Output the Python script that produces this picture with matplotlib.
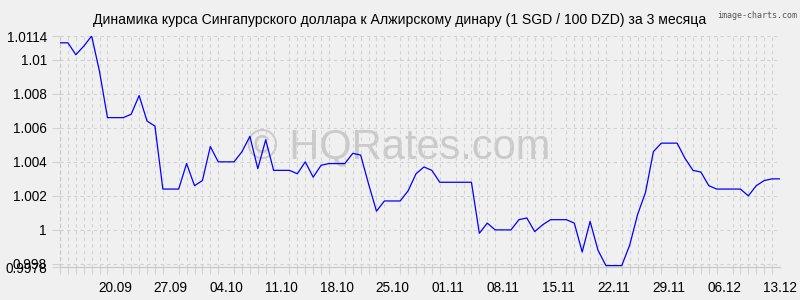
import numpy as np
import pandas as pd
import matplotlib
matplotlib.use("Agg")
from matplotlib import pyplot as plt

# daily SGD/DZD rate (1 SGD / 100 DZD), 13.09 - 13.12
dates = pd.date_range("2021-09-13", "2021-12-13", freq="D")
rate = [
    1.0110, 1.0110, 1.0103, 1.0108, 1.0114, 1.0093, 1.0066, 1.0066, 1.0066, 1.0068,
    1.0079, 1.0064, 1.0061, 1.0024, 1.0024, 1.0024, 1.0039, 1.0026, 1.0029, 1.0049,
    1.0040, 1.0040, 1.0040, 1.0046, 1.0055, 1.0036, 1.0053, 1.0035, 1.0035, 1.0035,
    1.0033, 1.0040, 1.0031, 1.0038, 1.0039, 1.0039, 1.0039, 1.0045, 1.0044, 1.0027,
    1.0011, 1.0017, 1.0017, 1.0017, 1.0023, 1.0033, 1.0037, 1.0035, 1.0028, 1.0028,
    1.0028, 1.0028, 1.0028, 0.9998, 1.0004, 1.0000, 1.0000, 1.0000, 1.0006, 1.0007,
    0.9999, 1.0003, 1.0006, 1.0006, 1.0006, 1.0004, 0.9987, 1.0005, 0.9988, 0.9979,
    0.9979, 0.9979, 0.9991, 1.0009, 1.0022, 1.0046, 1.0051, 1.0051, 1.0051, 1.0042,
    1.0035, 1.0034, 1.0026, 1.0024, 1.0024, 1.0024, 1.0024, 1.0020, 1.0026, 1.0029,
    1.0030, 1.0030,
]
x_labels = ["20.09", "27.09", "04.10", "11.10", "18.10", "25.10", "01.11",
            "08.11", "15.11", "22.11", "29.11", "06.12", "13.12"]
y_ticks = [0.9978, 0.998, 1.0, 1.002, 1.004, 1.006, 1.008, 1.01, 1.0114]
y_labels = ["0.9978", "0.998", "1", "1.002", "1.004", "1.006", "1.008", "1.01", "1.0114"]

plt.rcParams["font.family"] = ["Liberation Sans", "DejaVu Sans"]
bg = "#f0f0f0"
grid_c = "#d2d2d2"

fig = plt.figure(figsize=(8, 3), dpi=100, facecolor=bg)
ax = fig.add_axes([0.075, 0.109, 0.9, 0.771], facecolor=bg)

idx = np.arange(len(rate))
ax.plot(idx, rate, color="#0000ff", lw=0.9, zorder=3)

ax.set_xlim(0, len(rate) - 1)
ax.set_ylim(y_ticks[0], y_ticks[-1])

# weekly labels, daily dashed grid
label_pos = [dates.get_loc(pd.to_datetime(l + ".2021", format="%d.%m.%Y")) for l in x_labels]
ax.set_xticks(label_pos)
ax.set_xticklabels(x_labels)
ax.set_xticks(idx, minor=True)
ax.set_yticks(y_ticks)
ax.set_yticklabels(y_labels)

ax.grid(True, which="minor", axis="x", color=grid_c, lw=0.8, ls=(0, (3, 3)), zorder=0)
ax.grid(True, which="major", axis="y", color=grid_c, lw=0.8, ls=(0, (3, 3)), zorder=0)

ax.tick_params(axis="x", which="major", length=0, pad=10, labelsize=9.8, colors="#000000")
ax.tick_params(axis="x", which="minor", length=5, color=grid_c, width=0.8)
ax.tick_params(axis="y", length=6, color=grid_c, width=0.8, labelsize=9.8, pad=3.5)

for s in ["top", "right"]:
    ax.spines[s].set_visible(False)
ax.spines["left"].set_color("#c8c8c8")
ax.spines["left"].set_linestyle((0, (3, 3)))
ax.spines["bottom"].set_color("#c8c8c8")
ax.spines["bottom"].set_linewidth(0.8)

# watermark
ax.text(0.471, 0.52, "© HQRates.com", transform=ax.transAxes, ha="center", va="center",
        fontsize=30, color="#cacaca", zorder=1)

fig.text(0.5, 0.933, "Динамика курса Сингапурского доллара к Алжирскому динару (1 SGD / 100 DZD) за 3 месяца",
         ha="center", va="center", fontsize=10.1)
fig.text(0.996, 0.95, "image-charts.com", ha="right", va="center", fontsize=6.0,
         color="#555555", family="DejaVu Sans Mono")

fig.savefig("out.png", dpi=100, facecolor=bg)
